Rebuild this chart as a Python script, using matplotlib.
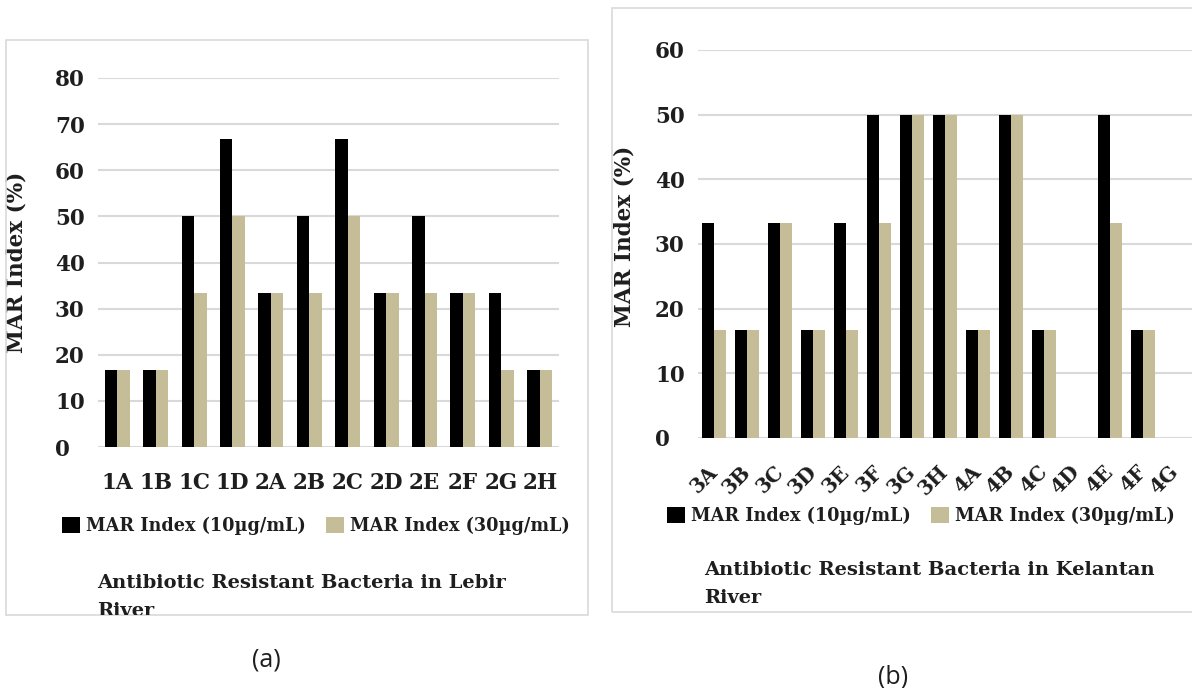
import numpy as np
import matplotlib
matplotlib.use("Agg")
import matplotlib.pyplot as plt
from matplotlib.patches import Rectangle
from matplotlib.transforms import Bbox

# data
lebir_labels = ["1A", "1B", "1C", "1D", "2A", "2B", "2C", "2D", "2E", "2F", "2G", "2H"]
lebir_10 = [16.7, 16.7, 50, 66.7, 33.3, 50, 66.7, 33.3, 50, 33.3, 33.3, 16.7]
lebir_30 = [16.7, 16.7, 33.3, 50, 33.3, 33.3, 50, 33.3, 33.3, 33.3, 16.7, 16.7]

kel_labels = ["3A", "3B", "3C", "3D", "3E", "3F", "3G", "3H",
              "4A", "4B", "4C", "4D", "4E", "4F", "4G"]
kel_10 = [33.3, 16.7, 33.3, 16.7, 33.3, 50, 50, 50, 16.7, 50, 16.7, 0, 50, 16.7, 0]
kel_30 = [16.7, 16.7, 33.3, 16.7, 16.7, 33.3, 50, 50, 16.7, 50, 16.7, 0, 33.3, 16.7, 0]

series_names = ["MAR Index (10\u00b5g/mL)", "MAR Index (30\u00b5g/mL)"]

BLACK = "#000000"
TAN = "#c4bd97"
GRID = "#d9d9d9"
SERIF = "DejaVu Serif"
INK = "#1e1e1e"

W, H = 1192, 688
fig = plt.figure(figsize=(W / 100, H / 100), dpi=100)


def px_axes(x0, x1, ytop, ybot):
    return fig.add_axes([x0 / W, (H - ybot) / H, (x1 - x0) / W, (ybot - ytop) / H])


def frame(x0, x1, ytop, ybot):
    fig.add_artist(Rectangle((x0 / W, (H - ybot) / H), (x1 - x0) / W, (ybot - ytop) / H,
                             transform=fig.transFigure, fill=False,
                             edgecolor="#d9d9d9", lw=1.2))


def panel(ax, labels, s10, s30, ymax, width, rotate):
    x = np.arange(len(labels))
    b1 = ax.bar(x - width / 2, s10, width, color=BLACK, zorder=3)
    b2 = ax.bar(x + width / 2, s30, width, color=TAN, zorder=3)
    ax.set_xlim(-0.5, len(labels) - 0.5)
    ax.set_ylim(0, ymax)
    ax.set_yticks(np.arange(0, ymax + 1, 10))
    ax.grid(axis="y", color=GRID, lw=1.5, zorder=0)
    for s in ax.spines.values():
        s.set_visible(False)
    ax.tick_params(axis="y", length=0, pad=31, labelsize=15.5)
    for t in ax.get_yticklabels():
        t.set_ha("left")
        t.set_fontweight("bold")
        t.set_family(SERIF)
        t.set_color(INK)
    ax.set_xticks(x)
    if rotate:
        ax.set_xticklabels(labels, rotation=45, ha="right", va="center",
                           rotation_mode="anchor")
        ax.tick_params(axis="x", length=0, pad=22, labelsize=14.5)
    else:
        ax.set_xticklabels(labels)
        ax.tick_params(axis="x", length=0, pad=18, labelsize=15.5)
    for t in ax.get_xticklabels():
        t.set_fontweight("bold")
        t.set_family(SERIF)
        t.set_color(INK)
    ax.set_ylabel("MAR Index (%)", fontsize=15.5, fontweight="bold", family=SERIF,
                  color=INK)
    return b1, b2


def legend(handles, x_px, y_px):
    fig.legend(handles, series_names, loc="center left",
               bbox_to_anchor=(x_px / W, (H - y_px) / H), ncol=2, frameon=False,
               prop={"family": SERIF, "weight": "bold", "size": 12.7},
               handlelength=1.02, handleheight=1.02, handletextpad=0.34,
               columnspacing=1.15, borderpad=0, borderaxespad=0,
               labelcolor=INK)


def title(lines, x_px, y_px, clip):
    t = fig.text(x_px / W, (H - y_px) / H, lines, ha="left", va="center",
                 fontsize=14, fontweight="bold", family=SERIF, color=INK,
                 linespacing=1.65)
    t.set_clip_box(Bbox.from_extents(clip[0], H - clip[3], clip[1], H - clip[2]))
    t.set_clip_on(True)


# (a) Lebir River
frame(6, 588, 40, 615)
axa = px_axes(98, 559, 78, 447)
ha = panel(axa, lebir_labels, lebir_10, lebir_30, 80, 0.325, False)
axa.yaxis.set_label_coords(-0.152, 0.5)
legend(ha, 62, 526)
title("Antibiotic Resistant Bacteria in Lebir\nRiver", 97, 597, (6, 588, 40, 615))
fig.text(266 / W, (H - 660) / H, "(a)", ha="center", va="center",
         fontsize=18, family="Open Sans", color=INK)

# (b) Kelantan River
frame(612, 1240, 8, 612)
axb = px_axes(698, 1192, 50, 438)
hb = panel(axb, kel_labels, kel_10, kel_30, 60, 0.365, True)
axb.yaxis.set_label_coords(-0.126, 0.52)
legend(hb, 667, 516)
title("Antibiotic Resistant Bacteria in Kelantan\nRiver", 704, 584, (612, 1192, 8, 612))
fig.text(893 / W, (H - 677) / H, "(b)", ha="center", va="center",
         fontsize=18, family="Open Sans", color=INK)

fig.savefig("out.png", dpi=100, facecolor="white")
